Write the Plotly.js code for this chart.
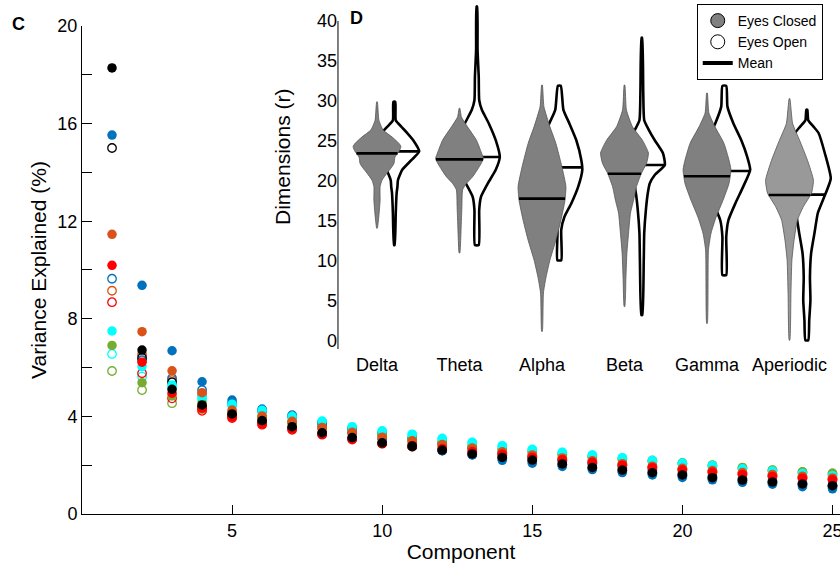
<!DOCTYPE html>
<html><head><meta charset="utf-8">
<script src="https://cdn.plot.ly/plotly-3.0.1.min.js"></script>
<style>html,body{margin:0;padding:0;overflow:hidden;background:#fff}</style>
</head><body><div id="chart" style="width:840px;height:563px"></div>
<script>
// ---------- Panel C data: variance explained per component ----------
const components = [1,2,3,4,5,6,7,8,9,10,11,12,13,14,15,16,17,18,19,20,21,22,23,24,25];
const blackFilled  = [18.28,6.72,5.11,4.47,4.10,3.83,3.58,3.33,3.13,2.92,2.79,2.62,2.46,2.32,2.21,2.05,1.91,1.80,1.69,1.60,1.49,1.39,1.31,1.23,1.16];
const blueFilled   = [15.53,9.37,6.69,5.42,4.67,4.30,4.00,3.65,3.35,3.05,2.82,2.60,2.42,2.20,2.08,1.95,1.82,1.70,1.60,1.50,1.40,1.30,1.22,1.12,1.03];
const orangeFilled = [11.46,7.47,5.87,4.97,4.26,4.02,3.80,3.55,3.35,3.15,3.00,2.85,2.70,2.55,2.42,2.30,2.18,2.06,1.96,1.87,1.78,1.70,1.62,1.55,1.48];
const redFilled    = [10.19,6.22,4.95,4.33,3.96,3.69,3.48,3.28,3.08,2.90,2.80,2.68,2.56,2.45,2.33,2.22,2.12,2.00,1.90,1.80,1.71,1.62,1.54,1.47,1.40];
const cyanFilled   = [7.50,6.04,5.29,4.81,4.50,4.25,4.00,3.81,3.58,3.41,3.27,3.10,2.94,2.80,2.65,2.53,2.42,2.31,2.19,2.09,1.99,1.85,1.76,1.66,1.57];
const greenFilled  = [6.91,5.38,4.84,4.55,4.20,4.00,3.80,3.60,3.40,3.25,3.10,2.95,2.80,2.66,2.55,2.45,2.35,2.26,2.20,2.10,2.01,1.91,1.80,1.73,1.67];
const blackOpen    = [15.00,6.40,5.40,4.40,4.05,3.78,3.53,3.30,3.10,2.90,2.76,2.60,2.44,2.30,2.18,2.03,1.90,1.78,1.67,1.58,1.47,1.37,1.29,1.21,1.14];
const blueOpen     = [9.64,6.30,5.56,5.08,4.55,4.25,4.05,3.75,3.50,3.30,3.10,2.88,2.70,2.50,2.35,2.20,2.05,1.90,1.78,1.66,1.55,1.45,1.35,1.26,1.17];
const orangeOpen   = [9.15,6.54,5.49,4.90,4.15,3.95,3.75,3.50,3.30,3.10,2.95,2.80,2.65,2.50,2.38,2.27,2.15,2.04,1.94,1.85,1.76,1.68,1.60,1.52,1.45];
const redOpen      = [8.68,5.77,4.74,4.23,3.93,3.66,3.45,3.25,3.05,2.88,2.76,2.63,2.52,2.41,2.30,2.19,2.09,2.00,1.90,1.81,1.72,1.63,1.55,1.48,1.40];
const cyanOpen     = [6.56,5.63,5.20,4.70,4.45,4.20,3.98,3.78,3.55,3.38,3.24,3.07,2.92,2.78,2.63,2.51,2.40,2.29,2.17,2.07,1.97,1.87,1.77,1.68,1.60];
const greenOpen    = [5.86,5.08,4.54,4.30,4.10,3.95,3.75,3.55,3.37,3.22,3.07,2.93,2.78,2.64,2.53,2.43,2.33,2.24,2.16,2.07,1.98,1.89,1.79,1.72,1.66];
const yTickVals = [0,2,4,6,8,10,12,14,16,18,20];
const yTickText = ['0','','4','','8','','12','','16','','20'];
const xTickVals = [5,10,15,20,25];

// ---------- Panel D data: dimensions per band (violin profiles) ----------
const bands = ['Delta','Theta','Alpha','Beta','Gamma','Aperiodic'];
const closedMean = [23.45,22.7,17.8,20.9,20.6,18.25];
const openMean   = [23.7,23.0,21.7,22.0,21.25,18.3];
// values (r) and relative density (max ~1) along each violin
const deltaClosedV = [29.9,27.6,26.4,25.5,24.7,24.3,23.7,23.0,22.2,21.6,21.0,20.1,19.3,17.6,16.4,15.1,14.1];
const deltaClosedD = [0.013,0.08,0.25,0.63,0.92,1.0,0.92,0.75,0.71,0.58,0.42,0.21,0.13,0.13,0.10,0.06,0.013];
const deltaOpenV   = [29.9,27.6,26.8,26.0,25.1,23.7,22.6,21.4,20.1,19.3,18.6,17.6,16.0,12.0];
const deltaOpenD   = [0.04,0.06,0.29,0.54,0.79,1.04,0.71,0.33,0.15,0.13,0.10,0.08,0.06,0.013];
const thetaClosedV = [29.1,28.0,26.8,25.1,23.5,22.8,21.8,20.5,19.7,18.9,16.8,15.1,13.5,11.0];
const thetaClosedD = [0.013,0.08,0.33,0.71,0.92,1.0,0.83,0.54,0.29,0.13,0.10,0.08,0.06,0.013];
const thetaOpenV   = [41.8,36.4,33.0,30.1,28.9,27.2,25.1,23.0,21.4,19.7,18.0,16.4,12.0];
const thetaOpenD   = [0.013,0.03,0.08,0.10,0.21,0.50,0.79,0.96,0.79,0.46,0.17,0.10,0.08];
const alphaClosedV = [32.0,29.3,26.8,24.7,21.8,19.3,17.6,15.1,12.6,10.1,8.0,6.0,1.2];
const alphaClosedD = [0.013,0.08,0.33,0.58,0.83,1.0,0.96,0.79,0.58,0.33,0.17,0.06,0.013];
const alphaOpenV   = [31.9,28.9,27.2,25.1,22.6,21.4,19.3,17.2,15.5,13.9,10.1];
const alphaOpenD   = [0.06,0.17,0.42,0.71,0.92,0.96,0.79,0.50,0.21,0.08,0.08];
const betaClosedV  = [32.0,28.9,26.8,25.1,23.5,22.2,21.0,19.3,17.6,16.0,13.5,11.0,8.0,4.3];
const betaClosedD  = [0.013,0.08,0.33,0.75,1.0,0.92,0.71,0.50,0.38,0.25,0.17,0.10,0.06,0.013];
const betaOpenV    = [37.9,31.0,27.6,26.4,25.1,23.5,22.0,20.75,19.7,18.5,16.4,13.5,10.1,3.25];
const betaOpenD    = [0.013,0.06,0.10,0.29,0.54,0.88,0.96,0.54,0.33,0.25,0.17,0.10,0.08,0.02];
const gammaClosedV = [31.0,28.5,26.8,24.7,22.6,21.4,19.7,17.6,15.5,13.5,11.4,2.2];
const gammaClosedD = [0.013,0.08,0.33,0.71,0.92,1.0,0.92,0.67,0.38,0.17,0.06,0.013];
const gammaOpenV   = [31.9,29.3,27.2,25.1,23.0,21.4,19.3,17.2,15.1,13.0,8.25];
const gammaOpenD   = [0.08,0.13,0.38,0.71,0.96,1.08,0.79,0.46,0.17,0.08,0.08];
const aperClosedV  = [30.3,27.2,25.1,22.6,20.1,18.5,16.8,15.1,12.6,10.1,6.0,0.1];
const aperClosedD  = [0.013,0.13,0.42,0.75,1.0,0.92,0.58,0.33,0.19,0.10,0.06,0.013];
const aperOpenV    = [28.9,27.6,26.8,26.0,23.5,20.3,17.6,16.0,13.5,11.0,8.0,5.1,2.6,0.1];
const aperOpenD    = [0.02,0.06,0.28,0.49,0.75,1.0,0.67,0.46,0.32,0.18,0.13,0.15,0.10,0.06];
const insetTickVals = [0,5,10,15,20,25,30,35,40];

// ---------- styling ----------
const FONT = 'Liberation Sans, Arial, Helvetica, sans-serif';
const COL = {black:'#000000', blue:'#0072BD', orange:'#D95319', red:'#FF0000', cyan:'#00FFFF', green:'#77AC30'};
const HALF_W = 0.29;      // violin half width in category units
const OPEN_OFFSET = 0.21; // offset of eyes-open violin
const SMOOTH = 0.5;
const traces = [];

function ptsTrace(y, color, open) {
  return {
    type:'scatter', mode:'markers', x: components, y: y, xaxis:'x', yaxis:'y', showlegend:false,
    hoverinfo:'skip',
    marker: open ? {symbol:'circle-open', size:8.5, color:color, line:{width:1.3, color:color}}
                 : {symbol:'circle', size:9.5, color:color, line:{width:0}}
  };
}
[[greenOpen,COL.green],[cyanOpen,COL.cyan],[redOpen,COL.red],[orangeOpen,COL.orange],[blueOpen,COL.blue],[blackOpen,COL.black]]
  .forEach(s => traces.push(ptsTrace(s[0], s[1], true)));
[[greenFilled,COL.green],[blueFilled,COL.blue],[cyanFilled,COL.cyan],[orangeFilled,COL.orange],[redFilled,COL.red],[blackFilled,COL.black]]
  .forEach(s => traces.push(ptsTrace(s[0], s[1], false)));

function outline(center, vals, dens) {
  const xs = [], ys = [];
  for (let k = 0; k < vals.length; k++) { xs.push(center + dens[k]*HALF_W); ys.push(vals[k]); }
  for (let k = vals.length-1; k >= 0; k--) { xs.push(center - dens[k]*HALF_W); ys.push(vals[k]); }
  xs.push(xs[0]); ys.push(ys[0]);
  return {xs, ys};
}
function densAt(vals, dens, m) {
  for (let k = 0; k < vals.length-1; k++) {
    const a = vals[k], b = vals[k+1];
    if ((m <= a && m >= b)) { const t = (a - m)/(a - b); return dens[k] + t*(dens[k+1]-dens[k]); }
  }
  return 0;
}
const closedSets = [[deltaClosedV,deltaClosedD],[thetaClosedV,thetaClosedD],[alphaClosedV,alphaClosedD],[betaClosedV,betaClosedD],[gammaClosedV,gammaClosedD],[aperClosedV,aperClosedD]];
const openSets   = [[deltaOpenV,deltaOpenD],[thetaOpenV,thetaOpenD],[alphaOpenV,alphaOpenD],[betaOpenV,betaOpenD],[gammaOpenV,gammaOpenD],[aperOpenV,aperOpenD]];

bands.forEach((b, i) => {
  const oc = i + OPEN_OFFSET;
  const o = outline(oc, openSets[i][0], openSets[i][1]);
  traces.push({type:'scatter', mode:'lines', x:o.xs, y:o.ys, xaxis:'x2', yaxis:'y2', showlegend:false, hoverinfo:'skip',
    fill:'toself', fillcolor:'rgba(255,255,255,0)', line:{color:'#000', width:2.6, shape:'spline', smoothing:SMOOTH}});
  const ow = densAt(openSets[i][0], openSets[i][1], openMean[i]) * HALF_W;
  traces.push({type:'scatter', mode:'lines', x:[oc-ow, oc+ow], y:[openMean[i], openMean[i]], xaxis:'x2', yaxis:'y2',
    showlegend:false, hoverinfo:'skip', line:{color:'#000', width:2.6}});
  const c = outline(i, closedSets[i][0], closedSets[i][1]);
  const gray = i === 5 ? '#999999' : '#808080';
  traces.push({type:'scatter', mode:'lines', x:c.xs, y:c.ys, xaxis:'x2', yaxis:'y2', showlegend:false, hoverinfo:'skip',
    fill:'toself', fillcolor:gray, line:{color:'#555555', width:0.8, shape:'spline', smoothing:SMOOTH}});
  const cw = densAt(closedSets[i][0], closedSets[i][1], closedMean[i]) * HALF_W;
  traces.push({type:'scatter', mode:'lines', x:[i-cw, i+cw], y:[closedMean[i], closedMean[i]], xaxis:'x2', yaxis:'y2',
    showlegend:false, hoverinfo:'skip', line:{color:'#000', width:2.6}});
});

// legend entries
traces.push({type:'scatter', mode:'markers', name:'Eyes Closed', x:[null], y:[null], xaxis:'x2', yaxis:'y2',
  marker:{symbol:'circle', size:14, color:'#808080', line:{color:'#000', width:1}}});
traces.push({type:'scatter', mode:'markers', name:'Eyes Open', x:[null], y:[null], xaxis:'x2', yaxis:'y2',
  marker:{symbol:'circle', size:14, color:'#ffffff', line:{color:'#000', width:1}}});
traces.push({type:'scatter', mode:'lines', name:'Mean', x:[null], y:[null], xaxis:'x2', yaxis:'y2',
  line:{color:'#000', width:4}});

const layout = {
  width:840, height:563,
  margin:{l:82, r:0, t:4, b:49},
  paper_bgcolor:'#ffffff', plot_bgcolor:'rgba(0,0,0,0)',
  font:{family:FONT, color:'#000', size:18},
  showlegend:true,
  legend:{x:0.811, y:1.0, xanchor:'left', yanchor:'top', bgcolor:'#ffffff', bordercolor:'#000', borderwidth:1,
    font:{family:FONT, size:14, color:'#000'}, tracegroupgap:0, itemwidth:30},
  xaxis:{domain:[0,1], range:[0,25.25], tickvals:xTickVals, ticks:'inside', ticklen:9, tickcolor:'#000',
    showline:true, linecolor:'#000', linewidth:1, showgrid:false, zeroline:false, ticklabeloverflow:'allow',
    tickfont:{size:18}, title:{text:'Component', font:{size:21}, standoff:5}},
  yaxis:{domain:[0,0.9569], range:[0,20], tickvals:yTickVals, ticktext:yTickText, ticks:'inside', ticklen:10, tickcolor:'#000',
    showline:true, linecolor:'#000', linewidth:1, showgrid:false, zeroline:false,
    tickfont:{size:18}, title:{text:'Variance Explained (%)', font:{size:21}, standoff:5}},
  xaxis2:{domain:[0.3377,1], anchor:'y2', range:[-0.473,5.612], tickvals:[0,1,2,3,4,5], ticktext:bands,
    ticks:'', showline:false, showgrid:false, zeroline:false, tickfont:{size:18}, ticklabelstandoff:3},
  yaxis2:{domain:[0.3235,0.998], anchor:'x2', range:[-1,42], tickvals:insetTickVals, ticks:'',
    showline:false, showgrid:false, zeroline:false, tickfont:{size:18}},
  shapes:[
    {type:'line', xref:'x2 domain', yref:'y2', x0:0, x1:0, y0:-1, y1:40, line:{color:'#000', width:1}, layer:'above'}
  ],
  annotations:[
    {text:'<b>C</b>', xref:'paper', yref:'paper', x:-0.0844, y:0.9608, xanchor:'center', yanchor:'middle', showarrow:false,
      font:{family:FONT, size:18, color:'#000'}},
    {text:'<b>D</b>', xref:'paper', yref:'paper', x:0.3615, y:0.9725, xanchor:'center', yanchor:'middle', showarrow:false,
      font:{family:FONT, size:18, color:'#000'}},
    {text:'Dimensions (r)', xref:'paper', yref:'paper', x:0.2639, y:0.70, xanchor:'center', yanchor:'middle', showarrow:false,
      textangle:-90, font:{family:FONT, size:21, color:'#000'}}
  ]
};
Plotly.newPlot('chart', traces, layout, {displayModeBar:false, staticPlot:true});
</script></body></html>
